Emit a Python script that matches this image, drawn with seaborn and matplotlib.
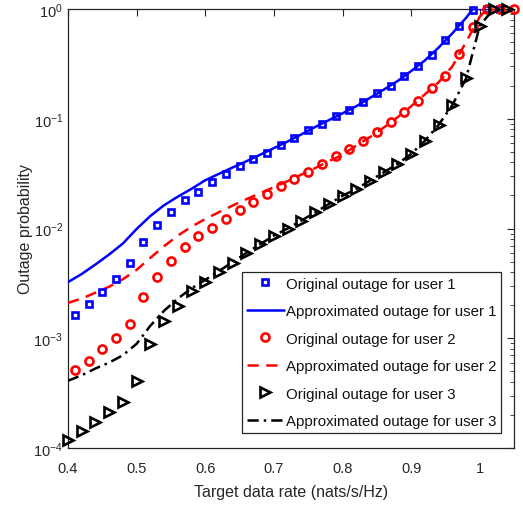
import matplotlib
matplotlib.use("Agg")
import matplotlib.pyplot as plt
import matplotlib.ticker as mticker
import seaborn as sns

# Simulated (original) outage probabilities
x_user1 = [0.41, 0.43, 0.45, 0.47, 0.49, 0.51, 0.53, 0.55, 0.57, 0.59, 0.61, 0.63, 0.65, 0.67,
           0.69, 0.71, 0.73, 0.75, 0.77, 0.79, 0.81, 0.83, 0.85, 0.87, 0.89, 0.91, 0.93, 0.95,
           0.97, 0.99, 1.01, 1.03]
orig_user1 = [1.64e-3, 2.05e-3, 2.65e-3, 3.5e-3, 4.9e-3, 7.5e-3, 1.08e-2, 1.4e-2, 1.8e-2, 2.16e-2,
              2.63e-2, 3.15e-2, 3.69e-2, 4.33e-2, 4.9e-2, 5.8e-2, 6.7e-2, 7.9e-2, 8.95e-2, 0.105,
              0.121, 0.141, 0.171, 0.198, 0.244, 0.305, 0.383, 0.518, 0.695, 0.97, 1.0, 1.0]

x_user2 = [0.41, 0.43, 0.45, 0.47, 0.49, 0.51, 0.53, 0.55, 0.57, 0.59, 0.61, 0.63, 0.65, 0.67,
           0.69, 0.71, 0.73, 0.75, 0.77, 0.79, 0.81, 0.83, 0.85, 0.87, 0.89, 0.91, 0.93, 0.95,
           0.97, 0.99, 1.01, 1.03, 1.05]
orig_user2 = [5.1e-4, 6.2e-4, 8.0e-4, 1.0e-3, 1.35e-3, 2.36e-3, 3.6e-3, 5.1e-3, 6.8e-3, 8.5e-3,
              1.01e-2, 1.22e-2, 1.47e-2, 1.73e-2, 2.06e-2, 2.45e-2, 2.85e-2, 3.3e-2, 3.9e-2, 4.6e-2,
              5.3e-2, 6.3e-2, 7.5e-2, 9.3e-2, 0.115, 0.146, 0.189, 0.247, 0.389, 0.68, 1.0, 1.0, 1.0]

x_user3 = [0.40, 0.42, 0.44, 0.46, 0.48, 0.50, 0.52, 0.54, 0.56, 0.58, 0.60, 0.62, 0.64, 0.66,
           0.68, 0.70, 0.72, 0.74, 0.76, 0.78, 0.80, 0.82, 0.84, 0.86, 0.88, 0.90, 0.92, 0.94,
           0.96, 0.98, 1.00, 1.02, 1.04]
orig_user3 = [1.19e-4, 1.44e-4, 1.74e-4, 2.11e-4, 2.64e-4, 4.1e-4, 8.9e-4, 1.45e-3, 1.95e-3, 2.68e-3,
              3.28e-3, 4.05e-3, 4.9e-3, 5.98e-3, 7.2e-3, 8.6e-3, 9.9e-3, 1.18e-2, 1.40e-2, 1.67e-2,
              1.99e-2, 2.29e-2, 2.73e-2, 3.25e-2, 3.87e-2, 4.78e-2, 6.3e-2, 8.8e-2, 0.133, 0.233,
              0.705, 1.0, 1.0]

# Analytical approximations
x_approx = [0.40, 0.42, 0.44, 0.46, 0.48, 0.50, 0.52, 0.54, 0.56, 0.58, 0.60, 0.62, 0.64, 0.66,
            0.68, 0.70, 0.72, 0.74, 0.76, 0.78, 0.80, 0.82, 0.84, 0.86, 0.88, 0.90, 0.92, 0.94,
            0.96, 0.98]
approx_user1 = [3.25e-3, 3.85e-3, 4.7e-3, 5.8e-3, 7.3e-3, 9.9e-3, 1.3e-2, 1.63e-2, 1.95e-2, 2.3e-2,
                2.75e-2, 3.15e-2, 3.6e-2, 4.1e-2, 4.7e-2, 5.4e-2, 6.2e-2, 7.2e-2, 8.4e-2, 9.7e-2,
                0.112, 0.130, 0.155, 0.184, 0.22, 0.272, 0.34, 0.445, 0.60, 0.83]
approx_user2 = [2.1e-3, 2.3e-3, 2.6e-3, 2.95e-3, 3.45e-3, 4.2e-3, 5.4e-3, 6.9e-3, 8.6e-3, 1.04e-2,
                1.22e-2, 1.41e-2, 1.62e-2, 1.85e-2, 2.1e-2, 2.38e-2, 2.7e-2, 3.1e-2, 3.55e-2, 4.1e-2,
                4.7e-2, 5.7e-2, 6.8e-2, 8.3e-2, 0.103, 0.13, 0.167, 0.215, 0.30, 0.50]
approx_user3 = [4.1e-4, 4.6e-4, 5.3e-4, 6.0e-4, 7.0e-4, 8.9e-4, 1.3e-3, 1.78e-3, 2.3e-3, 2.85e-3,
                3.4e-3, 4.1e-3, 4.95e-3, 6.0e-3, 7.2e-3, 8.6e-3, 1.0e-2, 1.18e-2, 1.40e-2, 1.67e-2,
                1.99e-2, 2.29e-2, 2.73e-2, 3.25e-2, 3.87e-2, 4.78e-2, 6.3e-2, 8.8e-2, 0.133, 0.233]
# saturation tails of the approximations
tail_x1, tail_y1 = [0.99, 1.05], [1.0, 1.0]
tail_x2, tail_y2 = [1.00, 1.01, 1.05], [0.85, 1.0, 1.0]
tail_x3, tail_y3 = [1.00, 1.02, 1.05], [0.705, 1.0, 1.0]

xticks = [0.4, 0.5, 0.6, 0.7, 0.8, 0.9, 1.0]
xtick_labels = ["0.4", "0.5", "0.6", "0.7", "0.8", "0.9", "1"]
yticks = [1e-4, 1e-3, 1e-2, 1e-1, 1e0]
ytick_labels = ["$10^{-4}$", "$10^{-3}$", "$10^{-2}$", "$10^{-1}$", "$10^{0}$"]

sns.set_theme(style="white")
plt.rcParams["font.family"] = ["Liberation Sans", "DejaVu Sans"]
plt.rcParams["mathtext.fontset"] = "custom"
plt.rcParams["mathtext.rm"] = "Liberation Sans"
plt.rcParams["mathtext.it"] = "Liberation Sans:italic"
plt.rcParams["mathtext.default"] = "regular"

fig = plt.figure(figsize=(5.23, 5.10), dpi=100)
ax = fig.add_axes([0.130, 0.1196, 0.853, 0.8608])

BLUE, RED, BLACK = "#0000ff", "#ff0000", "#000000"
lw = 1.8

mk = dict(linestyle="", markerfacecolor="none", markeredgewidth=1.9, clip_on=False,
          errorbar=None, zorder=4)

# user 1
sns.lineplot(x=x_user1, y=orig_user1, ax=ax, marker="s", markersize=5.0,
             markeredgecolor=BLUE, color=BLUE, label="Original outage for user 1", **mk)
sns.lineplot(x=x_approx + tail_x1, y=approx_user1 + tail_y1, ax=ax, color=BLUE,
             linewidth=lw, errorbar=None, label="Approximated outage for user 1", zorder=3)
# user 2
sns.lineplot(x=x_user2, y=orig_user2, ax=ax, marker="o", markersize=5.8,
             markeredgecolor=RED, color=RED, label="Original outage for user 2", **mk)
sns.lineplot(x=x_approx + tail_x2, y=approx_user2 + tail_y2, ax=ax, color=RED,
             linewidth=lw, errorbar=None, dashes=(4.5, 3), label="Approximated outage for user 2",
             zorder=3)
# user 3
sns.lineplot(x=x_user3, y=orig_user3, ax=ax, marker=">", markersize=6.5,
             markeredgecolor=BLACK, color=BLACK, label="Original outage for user 3", **mk)
sns.lineplot(x=x_approx + tail_x3, y=approx_user3 + tail_y3, ax=ax, color=BLACK,
             linewidth=lw, errorbar=None, dashes=(4.5, 2, 1, 2),
             label="Approximated outage for user 3", zorder=3)

ax.set_yscale("log")
ax.set_xlim(0.4, 1.05)
ax.set_ylim(1e-4, 1e0)
ax.set_xticks(xticks)
ax.set_xticklabels(xtick_labels)
ax.set_yticks(yticks)
ax.set_yticklabels(ytick_labels)
ax.yaxis.set_minor_locator(mticker.LogLocator(base=10, subs=range(2, 10), numticks=20))
ax.yaxis.set_minor_formatter(mticker.NullFormatter())

ax.tick_params(axis="both", which="both", direction="in", top=True, right=True,
               labelsize=10.5, colors="#262626", labelcolor="#262626")
ax.tick_params(axis="both", which="major", length=5, width=0.8)
ax.tick_params(axis="y", which="minor", length=3, width=0.6)
ax.tick_params(axis="x", pad=9)
for s in ax.spines.values():
    s.set_color("#262626")
    s.set_linewidth(0.9)

ax.set_xlabel("Target data rate (nats/s/Hz)", fontsize=11.5, color="#262626", labelpad=7)
ax.set_ylabel("Outage probability", fontsize=11.5, color="#262626", labelpad=0)

leg = ax.legend(loc="lower right", bbox_to_anchor=(0.97, 0.035), fontsize=10.8,
                frameon=True, fancybox=False, framealpha=1, edgecolor="#262626",
                handlelength=2.5, handletextpad=0.1, labelspacing=0.9, borderpad=0.3,
                borderaxespad=0.0)
leg.get_frame().set_linewidth(0.9)
for t in leg.get_texts():
    t.set_color("#111111")

fig.savefig("out.png", dpi=100)
